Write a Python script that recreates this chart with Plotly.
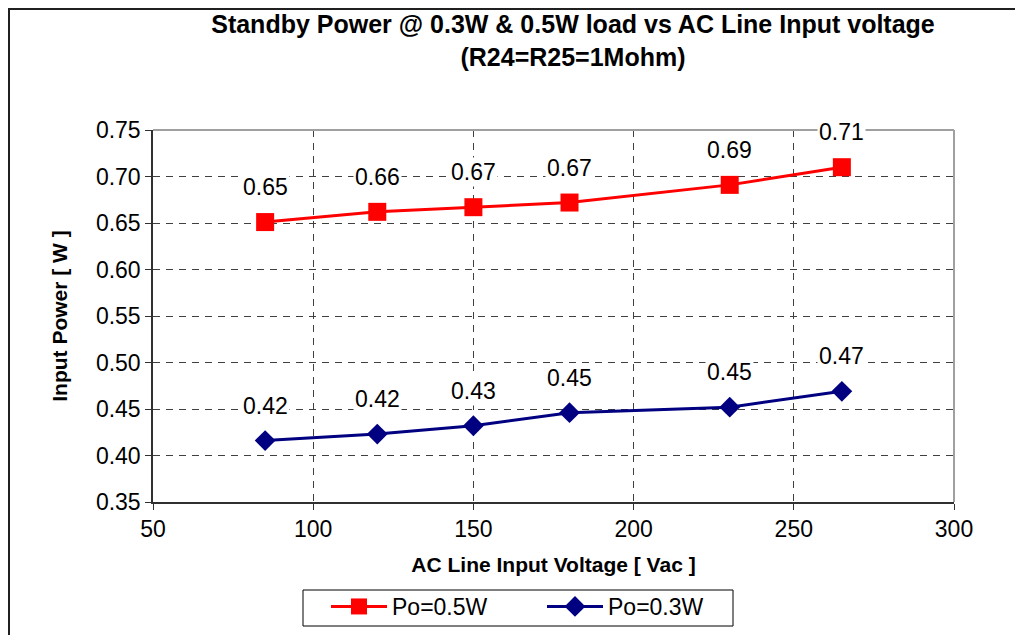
import plotly.graph_objects as go

# Data
voltage = [85, 120, 150, 180, 230, 265]
power_05w = [0.651, 0.662, 0.667, 0.672, 0.691, 0.710]
power_03w = [0.416, 0.423, 0.432, 0.446, 0.452, 0.469]
series_names = ["Po=0.5W", "Po=0.3W"]
x_ticks = [50, 100, 150, 200, 250, 300]
y_ticks = [0.35, 0.40, 0.45, 0.50, 0.55, 0.60, 0.65, 0.70, 0.75]

FONT = "Liberation Sans, Arial, sans-serif"
RED = "#ff0000"
NAVY = "#000080"

OFF = 8  # page offset of the figure within the window
W, H = 1023, 635
# target plot area in window pixels
PL, PR, PT, PB = 153, 954, 130, 502
L, T = PL - OFF, PT - OFF
R, B = W - (PR - OFF), H - (PB - OFF)
PW, PH = PR - PL, PB - PT


def px_x(p):
    return (p - PL) / PW


def px_y(p):
    return (PB - p) / PH


fig = go.Figure()
fig.add_trace(go.Scatter(
    x=voltage, y=power_05w, name=series_names[0], mode="lines+markers",
    line=dict(color=RED, width=3),
    marker=dict(symbol="square", size=18, color=RED),
))
fig.add_trace(go.Scatter(
    x=voltage, y=power_03w, name=series_names[1], mode="lines+markers",
    line=dict(color=NAVY, width=3),
    marker=dict(symbol="diamond", size=16, color=NAVY),
))

annotations = []
for xs, ys in ((voltage, power_05w), (voltage, power_03w)):
    for xv, yv in zip(xs, ys):
        annotations.append(dict(
            x=xv, y=yv, xref="x", yref="y", text=f"{yv:.2f}",
            showarrow=False, yshift=35, bgcolor="white",
            font=dict(family=FONT, size=23, color="black"),
        ))

fig.update_layout(
    width=W, height=H,
    margin=dict(l=L, r=R, t=T, b=B, autoexpand=False),
    paper_bgcolor="white", plot_bgcolor="white",
    font=dict(family=FONT, color="black"),
    title=dict(
        text="<b>Standby Power @ 0.3W & 0.5W load vs AC Line Input voltage<br>(R24=R25=1Mohm)</b>",
        x=(573 - OFF) / W, xanchor="center", xref="container",
        y=1 - 25 / H, yanchor="top", yref="container",
        font=dict(family=FONT, size=25, color="black"),
    ),
    xaxis=dict(
        range=[50, 300], tickvals=x_ticks, ticktext=[str(v) for v in x_ticks],
        showgrid=True, gridcolor="#404040", griddash="7px,6px", gridwidth=1,
        showline=True, linecolor="#303030", linewidth=1.5,
        ticks="outside", ticklen=6, tickcolor="#303030",
        tickfont=dict(family=FONT, size=23, color="black"),
        zeroline=False, automargin=False,
        title=dict(text="<b>AC Line Input Voltage [ Vac ]</b>",
                   font=dict(family=FONT, size=21, color="black"), standoff=16),
    ),
    yaxis=dict(
        range=[0.35, 0.75], tickvals=y_ticks, ticktext=[f"{v:.2f}" for v in y_ticks],
        showgrid=True, gridcolor="#404040", griddash="7px,6px", gridwidth=1,
        showline=True, linecolor="#303030", linewidth=1.5,
        ticks="outside", ticklen=6, tickcolor="#303030",
        tickfont=dict(family=FONT, size=23, color="black"),
        zeroline=False, automargin=False,
        title=dict(text="<b>Input Power [ W ]</b>",
                   font=dict(family=FONT, size=21, color="black"), standoff=23),
    ),
    legend=dict(
        orientation="h", x=px_x(326), xanchor="left", y=px_y(585), yanchor="top",
        borderwidth=0, bgcolor="rgba(0,0,0,0)",
        font=dict(family=FONT, size=23, color="black"),
        itemwidth=56, entrywidth=145, entrywidthmode="pixels",
    ),
    annotations=annotations,
    shapes=[
        dict(type="line", xref="paper", yref="paper", x0=0, x1=1, y0=1, y1=1,
             line=dict(color="#a0a0a0", width=2)),
        dict(type="line", xref="paper", yref="paper", x0=1, x1=1, y0=0, y1=1,
             line=dict(color="#a0a0a0", width=2)),
        dict(type="rect", xref="paper", yref="paper",
             x0=px_x(OFF + 1), x1=px_x(1040), y0=px_y(650), y1=px_y(OFF + 1),
             line=dict(color="#202020", width=2)),
        dict(type="rect", xref="paper", yref="paper",
             x0=px_x(303), x1=px_x(733), y0=px_y(626), y1=px_y(590),
             line=dict(color="black", width=1)),
    ],
)

fig.write_html("out.html")
